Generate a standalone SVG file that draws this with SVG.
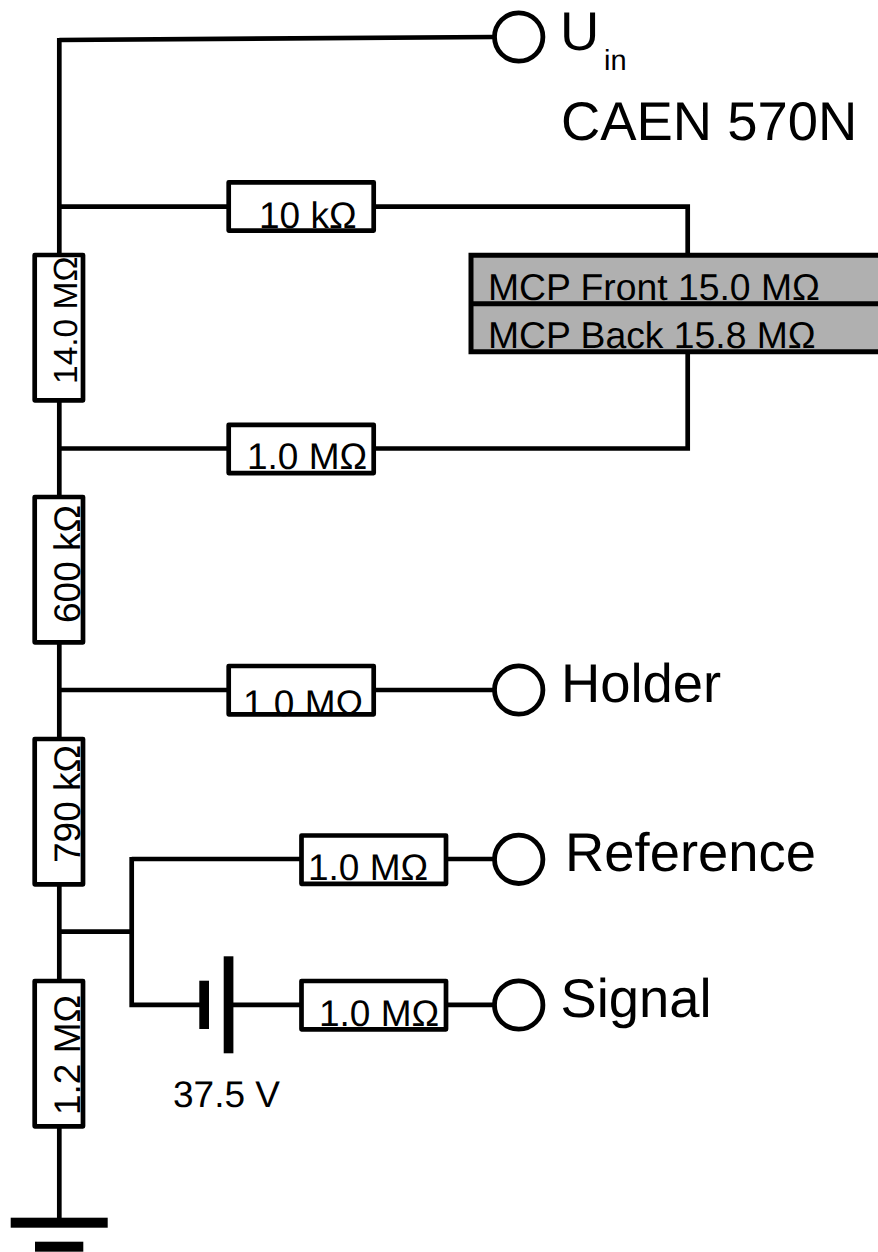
<svg xmlns="http://www.w3.org/2000/svg" width="878" height="1252" viewBox="0 0 878 1252">
<style>
text{font-family:"Liberation Sans",Arial,sans-serif;fill:#000;text-rendering:geometricPrecision}
.w{fill:none;stroke:#000;stroke-width:4.7;stroke-linejoin:miter;stroke-linecap:butt}
.r{fill:none;stroke:#000;stroke-width:4.7;stroke-linejoin:round}
.b{fill:#fff}
.c{fill:#fff;stroke:#000;stroke-width:4.8}
.v{font-size:37px}
.l{font-size:54.400px}
.m{font-size:37.300px}
</style>
<rect width="878" height="1252" fill="#fff"/>
<g id="connectors">
<path class="w" d="M59.300 38V1218M59.300 40L494 37M59.300 206.700H228M374 206.700H687.700V254M687.700 353V448.500H374M59.300 448.500H228M59.300 690H228M374 690H494M131.700 859H300M446 859H494M59.300 931.700H131.700M131.700 857V1004.800H200M232 1004.800H300M446 1004.800H494"/>
</g>
<g id="r-14M"><rect class="b" x="34.700" y="255" width="48.300" height="145.300"/><text class="v" style="font-size:33.500px" transform="translate(77 384) rotate(-90)">14.0 MΩ</text><rect class="r" x="34.700" y="255" width="48.300" height="145.300"/></g>
<g id="r-600k"><rect class="b" x="34.700" y="497" width="48.300" height="145.300"/><text class="v" transform="translate(80 623) rotate(-90)">600 kΩ</text><rect class="r" x="34.700" y="497" width="48.300" height="145.300"/></g>
<g id="r-790k"><rect class="b" x="34.700" y="739" width="48.300" height="145.300"/><text class="v" transform="translate(80 863) rotate(-90)">790 kΩ</text><rect class="r" x="34.700" y="739" width="48.300" height="145.300"/></g>
<g id="r-1M2"><rect class="b" x="34.700" y="981" width="48.300" height="145.300"/><text class="v" transform="translate(80 1115) rotate(-90)">1.2 MΩ</text><rect class="r" x="34.700" y="981" width="48.300" height="145.300"/></g>
<g id="r-10k"><rect class="b" x="228.700" y="182.300" width="145" height="48.300"/><text class="v" x="259" y="228">10 kΩ</text><rect class="r" x="228.700" y="182.300" width="145" height="48.300"/></g>
<g id="r-back"><rect class="b" x="228.700" y="424.800" width="145" height="48.300"/><text class="v" x="247" y="469">1.0 MΩ</text><rect class="r" x="228.700" y="424.800" width="145" height="48.300"/></g>
<g id="r-holder"><rect class="b" x="228.700" y="666" width="145" height="48.300"/><text class="v" x="243" y="716">1.0 MΩ</text><rect class="r" x="228.700" y="666" width="145" height="48.300"/></g>
<g id="r-reference"><rect class="b" x="301.500" y="835.500" width="144.500" height="48.300"/><text class="v" x="308" y="880">1.0 MΩ</text><rect class="r" x="301.500" y="835.500" width="144.500" height="48.300"/></g>
<g id="r-signal"><rect class="b" x="301.500" y="981" width="144.500" height="48.300"/><text class="v" x="319" y="1026">1.0 MΩ</text><rect class="r" x="301.500" y="981" width="144.500" height="48.300"/></g>
<g id="mcp">
<rect x="471" y="255" width="412" height="97" fill="#b0b0b0"/>
<text class="m" x="488" y="300">MCP Front 15.0 MΩ</text>
<text class="m" x="488" y="348">MCP Back 15.8 MΩ</text>
<path fill="none" stroke="#000" stroke-width="5" d="M471 303.700H883M883 255.200H471V351.700H883"/>
</g>
<g id="battery"><rect x="199.300" y="980.700" width="9.700" height="48.300"/><rect x="223.700" y="956.300" width="9.700" height="97"/><text class="v" x="173" y="1107">37.5 V</text></g>
<g id="ground"><rect x="10.700" y="1217.700" width="97" height="10"/><rect x="35" y="1241.700" width="48.300" height="10"/></g>
<g id="term-uin"><circle class="c" cx="518.700" cy="37" r="24.200"/><text class="l" x="560" y="49.500">U</text><text x="604" y="70" font-size="29">in</text></g>
<g id="title"><text class="l" x="561" y="140">CAEN 570N</text></g>
<g id="term-holder"><circle class="c" cx="518.700" cy="690" r="24.200"/><text class="l" x="561" y="702">Holder</text></g>
<g id="term-reference"><circle class="c" cx="518.700" cy="859.300" r="24.200"/><text class="l" x="565" y="871">Reference</text></g>
<g id="term-signal"><circle class="c" cx="518.700" cy="1005" r="24.200"/><text class="l" x="560.500" y="1016.500">Signal</text></g>
</svg>
